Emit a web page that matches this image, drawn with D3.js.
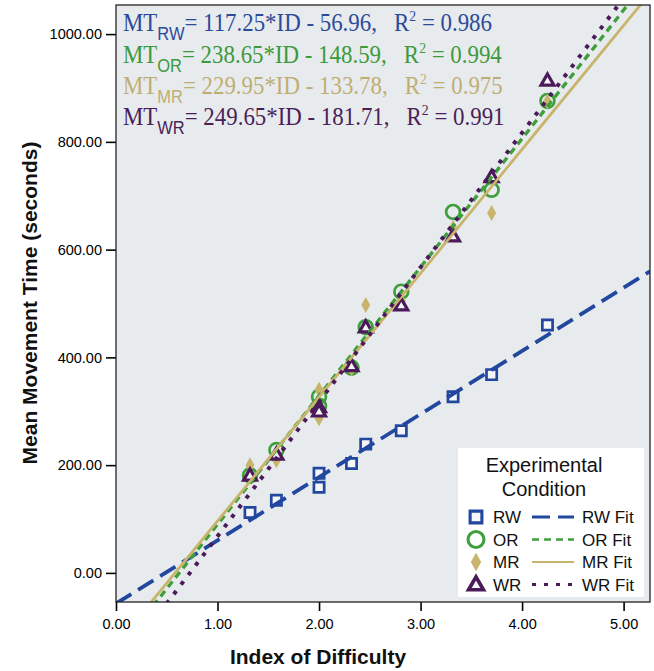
<!DOCTYPE html>
<html>
  <head>
    <meta charset="utf-8">
    <script src="https://d3js.org/d3.v7.min.js"></script>
    <style>
      body { margin: 0; background: #fff; }
    </style>
  </head>
  <body>
    <div id="my_dataviz"></div>
    <script>
    // index of difficulty for each trial condition
    var ids = [1.32, 1.58, 2.00, 2.00, 2.32, 2.46, 2.81, 3.32, 3.70, 4.25];
    // mean movement time per condition
    var rwMT = [112, 135, 185, 159, 203, 239, 264, 327, 368, 460];
    var orMT = [181, 228, 327, 310, 381, 456, 522, 670, 711, 876];
    var mrMT = [200, 209, 340, 287, 380, 497, 505, 640, 668, 875];
    var wrMT = [181, 220, 308, 300, 384, 456, 497, 625, 735, 914];

    var names = ["RW", "OR", "MR", "WR"];
    var slopes = [117.25, 238.65, 229.95, 249.65];
    var intercepts = [56.96, 148.59, 133.78, 181.71];
    var r2 = ["0.986", "0.994", "0.975", "0.991"];

    var xTicks = [0, 1, 2, 3, 4, 5];
    var yTicks = [0, 200, 400, 600, 800, 1000];

    var colors = {RW: "#22479e", OR: "#3f9f3c", MR: "#c8b46c", WR: "#4b1a5b"};
    var textColors = {RW: "#2c4a9a", OR: "#3c9a3c", MR: "#bfae74", WR: "#4a1f58"};
    var dashes = {RW: "18,8", OR: "7,5", MR: null, WR: "4,8"};
    var widths = {RW: 3.8, OR: 3.4, MR: 2.8, WR: 4};
    var series = {RW: rwMT, OR: orMT, MR: mrMT, WR: wrMT};

    var W = 654, H = 671;
    var pLeft = 116, pRight = 650, pTop = 5, pBottom = 602;

    var svg = d3.select("#my_dataviz")
      .append("svg")
      .attr("width", W)
      .attr("height", H);

    var x = d3.scaleLinear().domain([0, 5.26]).range([pLeft, pRight]);
    var y = d3.scaleLinear().domain([-54, 1054]).range([pBottom, pTop]);

    // plot background
    svg.append("rect")
      .attr("x", pLeft).attr("y", pTop)
      .attr("width", pRight - pLeft).attr("height", pBottom - pTop)
      .attr("fill", "#e8ebed");

    svg.append("clipPath").attr("id", "plotclip")
      .append("rect")
      .attr("x", pLeft).attr("y", pTop)
      .attr("width", pRight - pLeft).attr("height", pBottom - pTop);

    // axes
    svg.append("g")
      .attr("transform", "translate(0," + pBottom + ")")
      .call(d3.axisBottom(x).tickValues(xTicks).tickFormat(d3.format(".2f")).tickSize(9).tickSizeOuter(0))
      .call(function (g) {
        g.select(".domain").remove();
        g.selectAll("line").attr("stroke", "#000").attr("stroke-width", 1.6);
        g.selectAll("text").attr("font-family", "Liberation Sans, Arial, sans-serif")
          .attr("font-size", 14.5).attr("fill", "#000").attr("dy", "1.05em");
      });

    svg.append("g")
      .attr("transform", "translate(" + pLeft + ",0)")
      .call(d3.axisLeft(y).tickValues(yTicks).tickFormat(d3.format(".2f")).tickSize(10).tickSizeOuter(0))
      .call(function (g) {
        g.select(".domain").remove();
        g.selectAll("line").attr("stroke", "#000").attr("stroke-width", 1.6);
        g.selectAll("text").attr("font-family", "Liberation Sans, Arial, sans-serif")
          .attr("font-size", 14.5).attr("fill", "#000").attr("x", -14);
      });

    var plot = svg.append("g").attr("clip-path", "url(#plotclip)");

    // markers
    var symbolFor = {
      RW: d3.symbol().type(d3.symbolSquare).size(105),
      OR: d3.symbol().type(d3.symbolCircle).size(150),
      WR: d3.symbol().type(d3.symbolTriangle).size(72)
    };

    function drawMarker(g, name, cx, cy, scale) {
      scale = scale || 1;
      if (name == "MR") {
        g.append("path")
          .attr("d", "M0,-8L4.5,0L0,8L-4.5,0Z")
          .attr("transform", "translate(" + cx + "," + cy + ") scale(" + scale + ")")
          .attr("fill", colors.MR);
      } else {
        g.append("path")
          .attr("d", symbolFor[name]())
          .attr("transform", "translate(" + cx + "," + (name == "WR" ? cy + 1 : cy) + ") scale(" + scale + ")")
          .attr("fill", name == "OR" ? "none" : "#f6f6f8")
          .attr("stroke", colors[name])
          .attr("stroke-width", name == "WR" ? 3.2 : 2.7);
      }
    }

    names.forEach(function (n) {
      series[n].forEach(function (v, i) {
        drawMarker(plot, n, x(ids[i]), y(v));
      });
    });

    // fit lines
    names.forEach(function (n, k) {
      var line = d3.line().x(function (d) { return x(d); })
        .y(function (d) { return y(slopes[k] * d - intercepts[k]); });
      plot.append("path")
        .datum(x.domain())
        .attr("d", line)
        .attr("fill", "none")
        .attr("stroke", colors[n])
        .attr("stroke-width", widths[n])
        .attr("stroke-dasharray", dashes[n]);
    });

    // frame
    svg.append("rect")
      .attr("x", pLeft).attr("y", pTop)
      .attr("width", pRight - pLeft).attr("height", pBottom - pTop)
      .attr("fill", "none").attr("stroke", "#222").attr("stroke-width", 1.3);

    // equations
    var baselines = [31, 63, 94, 125];
    names.forEach(function (n, k) {
      var t = svg.append("g")
        .attr("transform", "translate(123," + baselines[k] + ") scale(0.915,1)")
        .append("text")
        .attr("font-family", "Liberation Serif, Times New Roman, serif")
        .attr("font-size", 25)
        .attr("fill", textColors[n]);
      t.append("tspan").text("MT");
      t.append("tspan").attr("font-family", "Liberation Sans, Arial, sans-serif")
        .attr("font-size", 18).attr("dy", 9).text(n);
      t.append("tspan").attr("dy", -9)
        .text("= " + slopes[k].toFixed(2) + "*ID - " + intercepts[k].toFixed(2) + ",\u00a0\u00a0\u00a0R");
      t.append("tspan").attr("font-size", 15).attr("dy", -10).text("2");
      t.append("tspan").attr("dy", 10).text(" = " + r2[k]);
    });

    // legend
    var lg = svg.append("g");
    lg.append("rect")
      .attr("x", 458).attr("y", 448).attr("width", 186).attr("height", 149)
      .attr("fill", "#fff");
    lg.append("text").attr("x", 544).attr("y", 472).attr("text-anchor", "middle")
      .attr("font-family", "Liberation Sans, Arial, sans-serif").attr("font-size", 20)
      .attr("fill", "#111").text("Experimental");
    lg.append("text").attr("x", 544).attr("y", 496).attr("text-anchor", "middle")
      .attr("font-family", "Liberation Sans, Arial, sans-serif").attr("font-size", 20)
      .attr("fill", "#111").text("Condition");

    names.forEach(function (n, k) {
      var cy = 517 + k * 22.5;
      drawMarker(lg, n, 476, cy, n == "OR" ? 1.15 : 1.15);
      lg.append("text").attr("x", 493).attr("y", cy + 6)
        .attr("font-family", "Liberation Sans, Arial, sans-serif").attr("font-size", 17)
        .attr("fill", "#111").text(n);
      lg.append("line").attr("x1", 532).attr("x2", 574).attr("y1", cy).attr("y2", cy)
        .attr("stroke", colors[n]).attr("stroke-width", widths[n] * 0.8)
        .attr("stroke-dasharray", dashes[n]);
      lg.append("text").attr("x", 582).attr("y", cy + 6)
        .attr("font-family", "Liberation Sans, Arial, sans-serif").attr("font-size", 17)
        .attr("fill", "#111").text(n + " Fit");
    });

    // axis titles
    svg.append("text").attr("x", 318).attr("y", 664).attr("text-anchor", "middle")
      .attr("font-family", "Liberation Sans, Arial, sans-serif").attr("font-weight", "bold")
      .attr("font-size", 21).attr("fill", "#111").text("Index of Difficulty");
    svg.append("text")
      .attr("transform", "translate(37,303) rotate(-90)")
      .attr("text-anchor", "middle")
      .attr("font-family", "Liberation Sans, Arial, sans-serif").attr("font-weight", "bold")
      .attr("font-size", 21).attr("fill", "#111").text("Mean Movement Time (seconds)");
    </script>
  </body>
</html>
